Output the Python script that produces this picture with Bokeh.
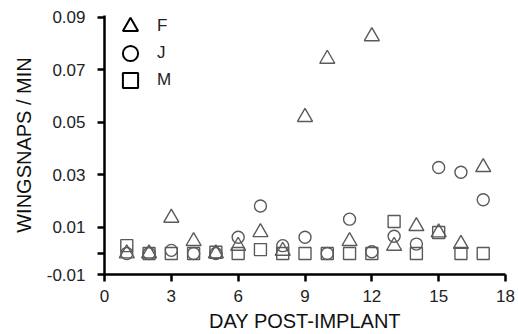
from bokeh.plotting import figure
from bokeh.models import Range1d, FixedTicker, Legend, LegendItem, ColumnDataSource
from bokeh.embed import file_html
from bokeh.resources import INLINE

days = [1, 2, 3, 4, 5, 6, 7, 8, 9, 10, 11, 12, 13, 14, 15, 16, 17]
F = [0.0, 0.0, 0.0136, 0.0047, 0.0, 0.0029, 0.0081, 0.0010, 0.052, 0.0742, 0.0047, 0.0828, 0.0029, 0.0104, 0.0080, 0.0036, 0.0329]
J = [0.0, 0.0, 0.0012, 0.0, 0.0, 0.0062, 0.0181, 0.0030, 0.0062, 0.0, 0.0131, 0.0007, 0.0066, 0.0036, 0.0328, 0.0310, 0.0205]
M = [0.0030, 0.0, 0.0, 0.0, 0.0005, 0.0, 0.0015, 0.0, 0.0, 0.0, 0.0, 0.0, 0.0122, 0.0, 0.0080, 0.0, 0.0]

series_names = ["F", "J", "M"]
x_ticks = [0, 3, 6, 9, 12, 15, 18]
y_ticks = [-0.008, 0.0, 0.01, 0.03, 0.05, 0.07, 0.09]
y_labels = {-0.008: "-0.01", 0.0: "", 0.01: "0.01", 0.03: "0.03", 0.05: "0.05", 0.07: "0.07", 0.09: "0.09"}

FONT = "Liberation Sans"

p = figure(width=518, height=334, output_backend="svg", toolbar_location=None,
           x_range=Range1d(0, 18), y_range=Range1d(-0.008, 0.09075),
           min_border_left=104, min_border_right=13, min_border_top=15, min_border_bottom=56)
p.outline_line_color = None
p.grid.visible = False

src = ColumnDataSource(dict(day=days, F=F, J=J, M=M))
mk = dict(fill_color=None, line_color="#5a5a5a", line_width=1.4)
p.scatter("day", "M", source=src, marker="square", size=12, **mk)
p.scatter("day", "J", source=src, marker="circle", size=12, **mk)
p.scatter("day", "F", source=src, marker="triangle", size=15, **mk)

# legend-only renderers: a single undefined (NaN) point, never drawn in the plot
nan_src = ColumnDataSource(dict(x=[float("nan")], y=[float("nan")]))
lk = dict(fill_color=None, line_color="black", line_width=2)
rF = p.scatter("x", "y", source=nan_src, marker="triangle", **lk)
rJ = p.scatter("x", "y", source=nan_src, marker="circle", **lk)
rM = p.scatter("x", "y", source=nan_src, marker="square", **lk)

leg_pos = [(7, 229), (7, 202), (7, 175)]
for name, r, pos in zip(series_names, [rF, rJ, rM], leg_pos):
    lg = Legend(items=[LegendItem(label=name, renderers=[r])],
                location=pos, margin=0, padding=0, spacing=0,
                glyph_width=38, glyph_height=38, label_standoff=8,
                label_text_font=FONT, label_text_font_size="17px", label_text_color="#222222",
                background_fill_alpha=0, border_line_color=None)
    p.add_layout(lg, "center")

for ax in (p.xaxis[0], p.yaxis[0]):
    ax.axis_line_width = 2.5
    ax.axis_line_color = "black"
    ax.major_tick_line_width = 2.5
    ax.major_tick_line_color = "black"
    ax.major_tick_out = 7
    ax.major_tick_in = 0
    ax.minor_tick_line_color = None
    ax.major_label_text_font = FONT
    ax.major_label_text_font_size = "17px"
    ax.major_label_text_color = "#222222"
    ax.axis_label_text_font = FONT
    ax.axis_label_text_font_size = "20px"
    ax.axis_label_text_font_style = "normal"
    ax.axis_label_text_color = "#111111"

p.xaxis[0].ticker = FixedTicker(ticks=x_ticks)
p.yaxis[0].ticker = FixedTicker(ticks=y_ticks)
p.yaxis[0].major_label_overrides = y_labels
p.xaxis[0].axis_label = "DAY POST-IMPLANT"
p.yaxis[0].axis_label = "WINGSNAPS / MIN"
p.xaxis[0].major_label_standoff = 8
p.xaxis[0].axis_label_standoff = 5
p.yaxis[0].major_label_standoff = 12
p.yaxis[0].axis_label_standoff = 9

open("out.html", "w").write(file_html(p, INLINE))
